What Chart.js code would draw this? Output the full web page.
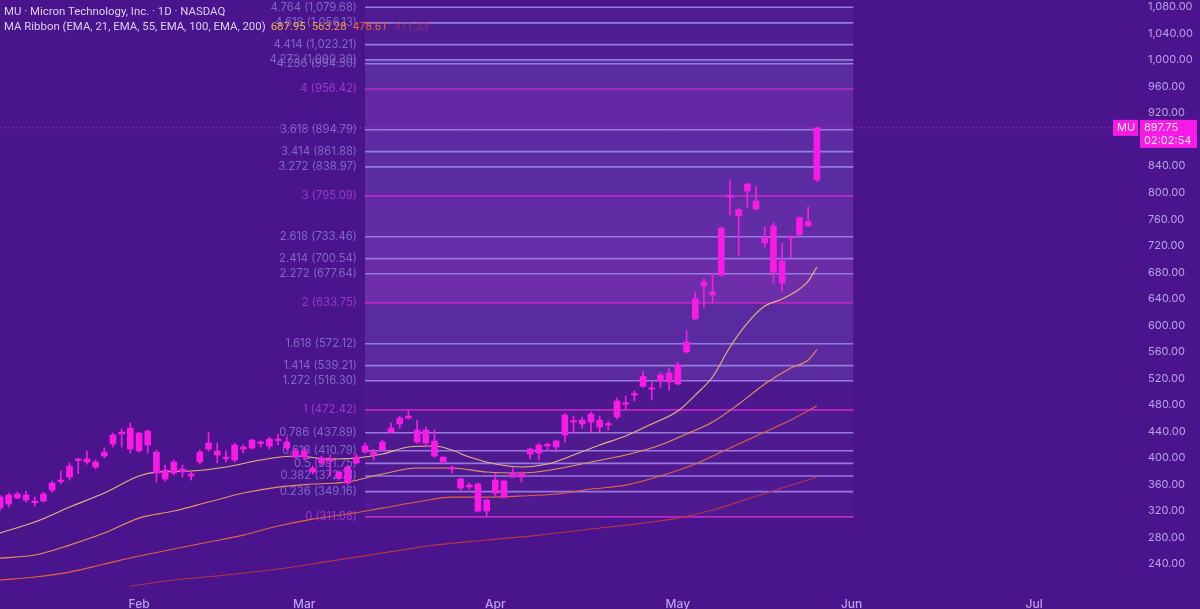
<!DOCTYPE html>
<html>
<head>
<meta charset="utf-8">
<script src="https://cdn.jsdelivr.net/npm/chart.js@4.4.1/dist/chart.umd.min.js"></script>
<style>
  html, body { margin: 0; padding: 0; background: #4a148c; }
  canvas { display: block; }
</style>
</head>
<body>
<canvas id="grafico" width="1200" height="609"></canvas>
<script>
// ===============================
// DATA
// ===============================
// bar index 0 = first trading day of February
const firstBar = -16;
const opens  = [324.4,330.4,339.5,336.5,334.0,335.0,351.5,364.3,371.1,396.0,393.8,393.8,402.8,420.9,436.0,413.4,
  437.5,419.4,408.8,381.7,377.2,383.2,375.7,393.8,413.4,410.4,400.5,396.8,413.4,414.9,421.8,417.9,427.5,423.9,410.4,410.4,384.7,
  392.3,396.8,378.7,362.1,392.3,408.8,408.8,411.8,439.0,451.1,460.1,442.0,442.0,425.4,401.3,384.7,368.1,356.0,360.6,336.4,
  347.0,365.1,371.1,377.2,405.8,407.3,418.0,416.4,434.5,455.6,451.1,454.1,457.1,451.1,461.6,481.0,494.8,507.9,505.0,515.9,
  514.4,511.4,559.7,609.6,659.4,650.3,675.7,793.0,774.3,802.5,787.4,731.6,749.7,696.9,731.6,736.6,756.2,819.1];
const closes = [341.0,344.0,345.5,344.0,332.5,345.5,362.1,365.8,387.7,397.5,398.3,386.2,408.8,434.5,439.0,445.0,
  410.4,440.5,377.2,368.1,393.8,378.7,372.6,408.8,422.4,404.3,399.0,419.4,416.4,426.9,423.0,428.4,426.2,414.9,401.3,401.3,378.7,
  399.8,395.3,369.6,386.2,401.3,417.9,404.3,423.9,445.0,460.1,463.1,423.9,422.4,402.8,393.8,383.2,354.5,359.1,319.8,319.8,
  366.6,341.0,377.2,371.1,413.4,419.4,419.4,425.4,464.6,454.1,457.1,466.1,446.5,449.6,485.8,482.5,496.3,523.0,503.5,525.0,
  528.0,540.1,574.8,639.7,665.4,645.8,746.7,794.5,765.3,813.0,775.3,724.1,680.3,663.7,733.1,762.3,750.2,897.75];
const highs  = [344.0,347.0,348.5,350.0,341.0,348.5,365.1,380.2,392.3,399.8,410.4,396.8,414.9,437.5,443.5,452.6,
  439.0,442.0,411.8,389.2,396.8,389.2,378.7,411.8,439.0,422.4,410.4,422.4,419.4,428.4,425.4,431.5,436.0,431.5,413.4,416.4,387.7,
  402.8,404.3,380.2,387.7,405.8,422.4,413.4,426.9,452.6,463.1,472.42,457.1,446.5,442.0,401.3,387.7,369.6,362.1,362.1,337.9,
  377.2,366.6,384.7,378.7,414.9,422.4,422.4,426.9,467.6,463.1,461.6,469.1,463.1,455.6,490.3,493.3,500.8,530.5,514.4,528.9,
  535.5,544.6,592.9,650.3,669.9,678.9,748.2,819.1,777.3,814.5,810.0,748.2,754.3,724.1,734.6,763.8,778.8,899.0];
const lows   = [321.0,325.9,338.0,333.4,327.4,333.4,348.5,360.6,366.6,376.2,390.7,383.2,399.8,416.4,416.4,407.3,
  408.8,407.3,363.6,365.1,374.2,371.1,366.6,390.7,410.4,392.3,393.8,393.8,407.3,413.4,416.4,413.4,419.4,411.8,399.8,396.8,375.7,
  389.2,372.6,366.6,359.1,390.7,407.3,396.8,410.4,437.5,445.0,458.6,422.4,416.4,401.3,390.7,377.2,351.5,353.0,318.3,311.08,
  342.5,339.5,371.1,363.6,398.3,396.8,410.4,408.8,423.9,437.5,445.0,439.0,439.0,442.0,458.6,472.2,485.8,506.4,487.3,506.4,
  502.3,509.9,558.2,608.1,627.7,633.6,674.2,766.3,704.4,778.3,773.8,718.1,663.7,651.7,701.5,733.1,748.7,817.0];

// MA ribbon: [bar index, value]
const ema21  = [[-16,286.6],[-12,303.2],[-8,325.8],[-4,347.0],[0,372.6],[2,378.6],[6,380.2],[10,386.2],[14,396.8],[18,402.8],
  [22,398.3],[25,399.8],[28,405.8],[31,416.4],[34,417.9],[36,411.8],[38,401.3],[41,390.7],[44,386.2],[47,390.7],[50,404.3],
  [53,419.4],[56,433.0],[59,451.1],[62,470.7],[64,494.8],[66,522.0],[68,567.2],[70,603.4],[72,629.0],[74,639.6],[76,654.7],
  [77,666.7],[78,687.95]];
const ema55  = [[-16,248.9],[-12,253.5],[-8,268.5],[-4,286.6],[0,309.2],[4,319.8],[8,333.4],[12,347.0],[16,356.0],[20,360.6],
  [24,363.6],[28,375.7],[32,384.7],[36,384.7],[40,378.7],[44,377.2],[48,383.2],[52,393.8],[56,404.3],[60,419.4],[63,436.0],
  [66,454.1],[69,481.2],[72,511.4],[75,535.5],[77,547.6],[78,563.28]];
const ema100 = [[-16,215.8],[-12,220.3],[-8,227.8],[-4,239.9],[0,252.0],[4,262.5],[8,273.1],[12,283.6],[16,297.2],[20,307.7],
  [24,315.3],[28,324.3],[32,333.4],[36,340.9],[40,340.9],[44,342.5],[48,345.5],[52,353.0],[56,359.0],[60,372.6],[64,390.7],
  [68,414.9],[72,439.0],[75,457.1],[78,478.61]];
const ema200 = [[-1,206.7],[4,215.8],[10,223.3],[16,232.4],[22,244.4],[28,256.5],[34,268.5],[40,276.1],[46,283.6],[52,292.7],
  [58,301.7],[62,309.2],[66,321.3],[70,337.9],[74,354.5],[78,371.33]];
const emaLast = [687.95, 563.28, 478.61, 371.33];

// Fibonacci levels and their prices
const fibLevels = ["0","0.236","0.382","0.5","0.618","0.786","1","1.272","1.414","1.618","2","2.272","2.414","2.618",
  "3","3.272","3.414","3.618","4","4.236","4.272","4.414","4.618","4.764"];
const fibPrices = [311.08,349.16,372.71,391.75,410.79,437.89,472.42,516.30,539.21,572.12,633.75,677.64,700.54,733.46,
  795.09,838.97,861.88,894.79,956.42,994.50,1000.30,1023.21,1056.13,1079.68];
const fibFrom = 26, fibTo = 82.2;

// axis labels
const monthLabels = ["Feb","Mar","Apr","May","Jun","Jul"];
const monthBars   = [0, 19, 41, 62, 82, 103];
const priceTicks  = [240,280,320,360,400,440,480,520,560,600,640,680,720,760,800,840,920,960,1000,1040,1080];
const lastPrice = 897.75;
const countdown = "02:02:54";

// ===============================
// STYLES
// ===============================
const MAGENTA = "#fa1ae6";
const emaColors  = ["#e9b57a", "#e6935c", "#e2623f", "#b8344a"];
const valueColors = ["#f4b64c", "#f39a48", "#ef603c", "#c43a48"];
const bandColors = [null,"#4f1a90","#4f1a90","#4f1a90","#4f1a90","#4f1a90","#4f1a90","#4d188e","#5a2a9e","#5a2a9e",
  "#5a2aa0","#6e2eaa","#6c2ca8","#642ca6","#622ca4","#5c2ca2","#5c2ca2","#5e2ca2","#6428a4","#5a2c9e","#5a2c9e",
  "#4e1e92","#4e1e92","#4e1c90"];
const isMain = lvl => Number.isInteger(Number(lvl));

function fmt(v) {
  return v.toLocaleString("en-US", { minimumFractionDigits: 2, maximumFractionDigits: 2 });
}

// ===============================
// DATASETS
// ===============================
const datasets = [];

fibPrices.forEach((p, i) => {
  datasets.push({
    type: "line",
    data: [{ x: fibFrom, y: p }, { x: fibTo, y: p }],
    borderColor: isMain(fibLevels[i]) ? "#b92ac4" : "#967ae0",
    borderWidth: 1.6,
    pointRadius: 0,
    fill: i === 0 ? false : "-1",
    backgroundColor: bandColors[i] || "transparent",
    order: 100
  });
});

const pts = arr => arr.map(p => ({ x: p[0], y: p[1] }));
[ema21, ema55, ema100, ema200].forEach((arr, k) => {
  datasets.push({
    type: "line",
    data: pts(arr),
    borderColor: emaColors[k],
    borderWidth: 1.1,
    pointRadius: 0,
    cubicInterpolationMode: "monotone",
    fill: false,
    order: 10
  });
});

datasets.push({
  type: "line",
  data: [{ x: -16, y: lastPrice }, { x: 112, y: lastPrice }],
  borderColor: "#c43ad0",
  borderWidth: 1,
  borderDash: [1, 3],
  pointRadius: 0,
  fill: false,
  order: 50
});

datasets.push({
  type: "bar",
  data: lows.map((l, i) => ({ x: firstBar + i, y: [l, highs[i]] })),
  backgroundColor: MAGENTA,
  barThickness: 1,
  grouped: false,
  order: 2
});

datasets.push({
  type: "bar",
  data: opens.map((o, i) => ({ x: firstBar + i, y: [o, closes[i]] })),
  backgroundColor: MAGENTA,
  barThickness: 6,
  minBarLength: 1.5,
  grouped: false,
  order: 1
});

// ===============================
// TEXT OVERLAYS
// ===============================
const overlay = {
  id: "overlay",
  beforeDatasetsDraw(chart) {
    const ctx = chart.ctx;
    const y = chart.scales.y;
    const xEdge = chart.scales.x.getPixelForValue(fibFrom) - 8;
    ctx.save();
    ctx.font = "11.3px Inter";
    ctx.textAlign = "right";
    ctx.textBaseline = "middle";
    fibPrices.forEach((p, i) => {
      ctx.fillStyle = isMain(fibLevels[i]) ? "#9a3ac8" : "#7f69c6";
      ctx.fillText(fibLevels[i] + " (" + fmt(p) + ")", xEdge, y.getPixelForValue(p));
    });
    ctx.restore();
  },
  afterDraw(chart) {
    const ctx = chart.ctx;
    const area = chart.chartArea;
    const py = chart.scales.y.getPixelForValue(lastPrice);
    ctx.save();
    // legend
    ctx.font = "11.4px Roboto";
    ctx.textBaseline = "middle";
    ctx.textAlign = "left";
    ctx.fillStyle = "#dccff3";
    ctx.fillText("MU · Micron Technology, Inc. · 1D · NASDAQ", 4, 12);
    const head = "MA Ribbon (EMA, 21, EMA, 55, EMA, 100, EMA, 200)";
    ctx.fillText(head, 4, 27);
    let x = 4 + ctx.measureText(head).width + 5;
    emaLast.forEach((v, k) => {
      ctx.fillStyle = valueColors[k];
      ctx.globalAlpha = k === 3 ? 0.6 : 1;
      ctx.fillText(fmt(v), x, 27);
      x += ctx.measureText(fmt(v)).width + 6;
    });
    ctx.globalAlpha = 1;
    // price tags
    ctx.fillStyle = MAGENTA;
    ctx.fillRect(area.right + 3, py - 8, 25, 16);
    ctx.fillRect(area.right + 30, py - 8, 57, 28);
    ctx.fillStyle = "#fde8fb";
    ctx.font = "11px Inter";
    ctx.fillText("MU", area.right + 7, py);
    ctx.fillText(fmt(lastPrice), area.right + 34, py);
    ctx.fillText(countdown, area.right + 34, py + 13);
    ctx.restore();
  }
};

// ===============================
// CHART
// ===============================
const ctx = document.getElementById("grafico").getContext("2d");
new Chart(ctx, {
  data: { datasets },
  options: {
    responsive: false,
    devicePixelRatio: 1,
    animation: false,
    events: [],
    layout: { padding: 0 },
    plugins: { legend: { display: false }, tooltip: { enabled: false } },
    scales: {
      x: {
        type: "linear",
        min: -16,
        max: 111.73,
        offset: false,
        grid: { display: false },
        border: { display: false },
        afterBuildTicks: axis => { axis.ticks = monthBars.map(v => ({ value: v })); },
        afterFit: axis => { axis.height = 20; axis.paddingLeft = 0; axis.paddingRight = 0; },
        ticks: {
          color: "#b9a3ea",
          font: { family: "Inter", size: 12, weight: "500" },
          padding: 0,
          maxRotation: 0,
          autoSkip: false,
          callback: v => monthLabels[monthBars.indexOf(v)]
        }
      },
      y: {
        type: "linear",
        position: "right",
        min: 202.3,
        max: 1090.56,
        grid: { display: false, drawTicks: false },
        border: { display: false },
        afterBuildTicks: axis => { axis.ticks = priceTicks.map(v => ({ value: v })); },
        afterFit: axis => { axis.width = 90; axis.paddingTop = 0; axis.paddingBottom = 0; },
        ticks: {
          color: "#b9a3ea",
          font: { family: "Inter", size: 11 },
          padding: 38,
          callback: v => fmt(v)
        }
      }
    }
  },
  plugins: [overlay]
});
</script>
</body>
</html>
